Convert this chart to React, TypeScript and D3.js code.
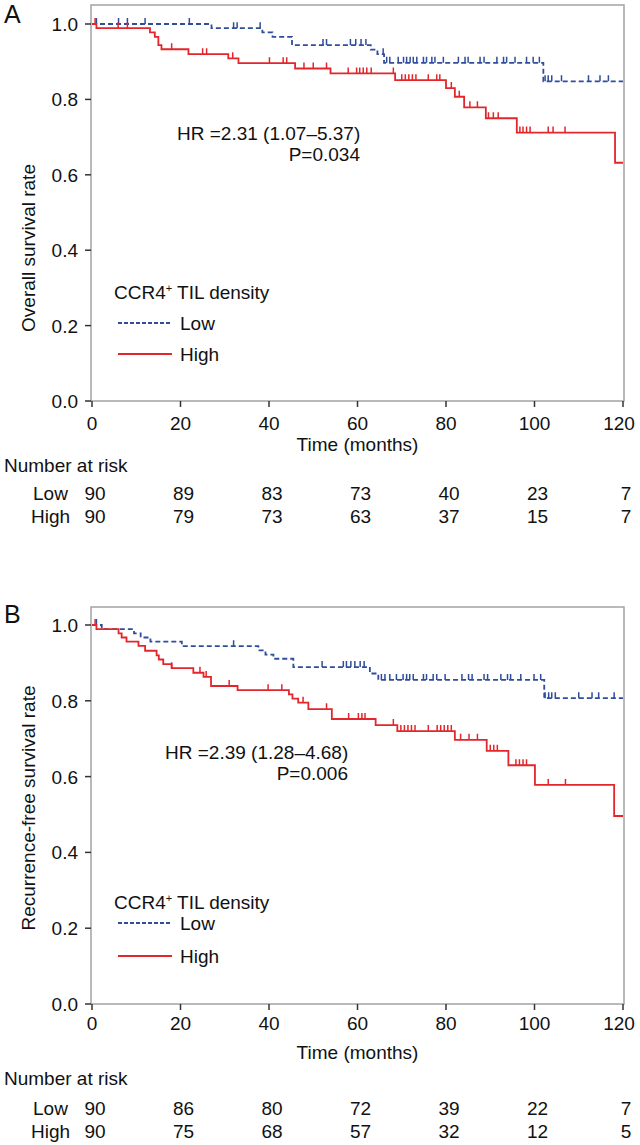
import * as d3 from "d3";

const timeTicks = [0, 20, 40, 60, 80, 100, 120];
const rateTicks = [0, 0.2, 0.4, 0.6, 0.8, 1.0];
const groups = ["Low", "High"];

// overall survival, panel A  [time, survival] at each drop
const osLow: [number, number][] = [
  [0, 1], [27, 0.989], [38.5, 0.978], [40.8, 0.966], [45.2, 0.944],
  [63, 0.932], [64.5, 0.92], [66, 0.897], [102, 0.848],
];
const osHigh: [number, number][] = [
  [0, 1], [1, 0.989], [13.1, 0.978], [14.2, 0.966], [15, 0.944], [15.7, 0.933],
  [21.8, 0.92], [30.8, 0.909], [33.1, 0.896], [45.9, 0.882], [53.9, 0.869],
  [68.5, 0.851], [80, 0.83], [82, 0.807], [84.1, 0.779], [89, 0.75],
  [96, 0.712], [118.2, 0.632],
];
const osLowCensor = [
  1, 6, 8, 12, 22, 32, 32.8, 38, 52.2, 53, 58.4, 59.6, 60.8, 61.9, 65.8, 66.6,
  67.3, 69.2, 70.4, 71.1, 71.9, 72.6, 73.4, 74.9, 75.6, 76.8, 77.5, 79.4, 82.8,
  84.3, 85, 87.7, 88.6, 91.5, 93, 93.7, 95.6, 98.2, 99.7, 101.1, 102.4, 103.1,
  103.9, 106.1, 112.2, 114.8, 116.7,
];
const osHighCensor = [
  0.7, 5.9, 8, 18, 25, 25.9, 31.8, 40.1, 43.2, 44, 47.9, 50, 53, 57.9, 59.8,
  60.5, 61.3, 62.1, 63.1, 68.1, 70, 70.8, 71.6, 72.4, 73.2, 76, 77.9, 78.6,
  81.2, 83, 85.4, 87.1, 89.6, 90.7, 91.8, 96.7, 97.4, 98.2, 99, 103.1, 104.2,
  106.9,
];
const osRiskLow = [90, 89, 83, 73, 40, 23, 7];
const osRiskHigh = [90, 79, 73, 63, 37, 15, 7];

// recurrence-free survival, panel B
const rfsLow: [number, number][] = [
  [0, 1], [2.2, 0.989], [9.5, 0.978], [11, 0.967], [13.2, 0.956], [20.3, 0.944],
  [37.6, 0.933], [39.2, 0.922], [41, 0.911], [45.5, 0.889], [62.8, 0.872],
  [64.7, 0.855], [102.2, 0.807],
];
const rfsHigh: [number, number][] = [
  [0, 1], [1, 0.989], [6, 0.978], [6.7, 0.967], [7.8, 0.956], [10.5, 0.945],
  [12, 0.932], [14.6, 0.92], [15.1, 0.909], [16.1, 0.897], [18, 0.886],
  [22.9, 0.874], [25.2, 0.863], [26.9, 0.839], [32.9, 0.828], [44.5, 0.817],
  [45.3, 0.806], [46.6, 0.795], [48.9, 0.778], [54.2, 0.752], [64.1, 0.736],
  [69, 0.72], [82, 0.697], [89.2, 0.668], [94.1, 0.63], [100.1, 0.578],
  [118, 0.496],
];
const rfsLowCensor = [
  1, 32, 52, 56.8, 57.5, 58.5, 59.4, 60.6, 61.5, 65.4, 66.2, 67.3, 68.8, 70.3,
  71.1, 71.8, 72.6, 74.9, 75.6, 77.1, 77.9, 79.8, 83.6, 85.1, 85.9, 88.6, 89.4,
  92.4, 93.9, 94.6, 96.9, 99.9, 101.4, 102.4, 103.2, 103.9, 104.7, 110, 113,
  114.5, 118,
];
const rfsHighCensor = [
  0.7, 18, 24.4, 25.8, 31, 39.8, 42.9, 47.7, 53, 58, 60.2, 61, 61.7, 68.1,
  69.8, 70.6, 71.4, 72.2, 73, 76, 78, 78.8, 79.6, 80.4, 81.2, 83.3, 85.2, 87.1,
  90, 90.8, 91.6, 95.8, 96.6, 97.4, 98.2, 103.1, 107,
];
const rfsRiskLow = [90, 86, 80, 72, 39, 22, 7];
const rfsRiskHigh = [90, 75, 68, 57, 32, 12, 5];

const FONT = "'Liberation Sans', Arial, Helvetica, sans-serif";
const FS = 19;
const RED = "#e3262b";
const BLUE = "#2f4d9c";
const FRAME = "#a3a3a3";

function survAt(steps: [number, number][], t: number) {
  let s = steps[0][1];
  for (const [tt, ss] of steps) if (tt <= t) s = ss;
  return s;
}

type Layout = {
  frameTop: number;
  y1: number;
  y0: number;
  letterY: number;
  hrX: number;
  hrY: number;
  legTitleY: number;
  legLowY: number;
  legHighY: number;
  tickLabelY: number;
  timeY: number;
  riskTitleY: number;
  riskLowY: number;
  riskHighY: number;
  yLabelMid: number;
};

type PanelProps = {
  letter: string;
  yLabel: string;
  hr: string;
  p: string;
  low: [number, number][];
  high: [number, number][];
  lowCensor: number[];
  highCensor: number[];
  riskLow: number[];
  riskHigh: number[];
  L: Layout;
};

const Panel = ({ letter, yLabel, hr, p, low, high, lowCensor, highCensor, riskLow, riskHigh, L }: PanelProps) => {
  const left = 91;
  const right = 624;
  const x = d3.scaleLinear().domain([0, 120]).range([92, 623]);
  const y = d3.scaleLinear().domain([0, 1]).range([L.y0, L.y1]);

  const line = d3
    .line<[number, number]>()
    .x((d) => x(d[0]))
    .y((d) => y(d[1]))
    .curve(d3.curveStepAfter);

  const withEnd = (s: [number, number][]) => [...s, [120, s[s.length - 1][1]] as [number, number]];

  const censorPath = (steps: [number, number][], times: number[]) =>
    times
      .map((t) => {
        const yy = y(survAt(steps, t));
        return `M${x(t)},${yy}V${yy - 6}`;
      })
      .join("");

  return (
    <g fontFamily={FONT} fontSize={FS} fill="#111">
      <text x={4} y={L.letterY} fontSize={25}>{letter}</text>
      {/* frame */}
      <rect x={left} y={L.frameTop} width={right - left} height={L.y0 - L.frameTop} fill="none" stroke={FRAME} strokeWidth={1.5} />
      {/* y ticks */}
      {rateTicks.map((v) => (
        <g key={v}>
          <line x1={85} x2={left} y1={y(v)} y2={y(v)} stroke="#333" strokeWidth={1.5} />
          <text x={78} y={y(v) + 7} textAnchor="end">
            {d3.format(".1f")(v)}
          </text>
        </g>
      ))}
      {/* x ticks */}
      {timeTicks.map((t) => (
        <g key={t}>
          <line x1={x(t)} x2={x(t)} y1={L.y0} y2={L.y0 + 6} stroke="#333" strokeWidth={1.5} />
          <text x={t === 120 ? x(t) - 4 : x(t)} y={L.tickLabelY} textAnchor="middle">
            {t}
          </text>
        </g>
      ))}
      <text x={(x(0) + x(120)) / 2} y={L.timeY} textAnchor="middle">
        Time (months)
      </text>
      <text transform={`translate(35,${L.yLabelMid}) rotate(-90)`} textAnchor="middle">
        {yLabel}
      </text>

      {/* curves */}
      <path d={line(withEnd(low)) || ""} fill="none" stroke={BLUE} strokeWidth={1.8} strokeDasharray="5,3" />
      <path d={censorPath(low, lowCensor)} fill="none" stroke={BLUE} strokeWidth={1.5} />
      <path d={line(withEnd(high)) || ""} fill="none" stroke={RED} strokeWidth={1.8} />
      <path d={censorPath(high, highCensor)} fill="none" stroke={RED} strokeWidth={1.5} />

      <text x={L.hrX} y={L.hrY}>{hr}</text>
      <text x={L.hrX + 183} y={L.hrY + 21} textAnchor="end">{p}</text>

      {/* legend */}
      <text x={114} y={L.legTitleY}>
        CCR4<tspan fontSize={11} dy={-7}>+</tspan>
        <tspan dy={7}> TIL density</tspan>
      </text>
      <line x1={118} x2={172} y1={L.legLowY} y2={L.legLowY} stroke={BLUE} strokeWidth={1.8} strokeDasharray="4,2" />
      <text x={180} y={L.legLowY + 7}>{groups[0]}</text>
      <line x1={118} x2={172} y1={L.legHighY} y2={L.legHighY} stroke={RED} strokeWidth={1.8} />
      <text x={180} y={L.legHighY + 7}>{groups[1]}</text>

      {/* number at risk */}
      <text x={4} y={L.riskTitleY}>Number at risk</text>
      <text x={33} y={L.riskLowY}>{groups[0]}</text>
      <text x={31} y={L.riskHighY}>{groups[1]}</text>
      {timeTicks.map((t, i) => (
        <g key={"r" + t}>
          <text x={x(t) + 3} y={L.riskLowY} textAnchor="middle">{riskLow[i]}</text>
          <text x={x(t) + 3} y={L.riskHighY} textAnchor="middle">{riskHigh[i]}</text>
        </g>
      ))}
    </g>
  );
};

const layoutA: Layout = {
  frameTop: 5, y1: 24, y0: 401, letterY: 23, hrX: 177, hrY: 140,
  legTitleY: 299, legLowY: 323, legHighY: 354,
  tickLabelY: 430, timeY: 451, riskTitleY: 472, riskLowY: 500, riskHighY: 523, yLabelMid: 248,
};
const layoutB: Layout = {
  frameTop: 607, y1: 625, y0: 1004, letterY: 623, hrX: 165, hrY: 759,
  legTitleY: 909, legLowY: 923, legHighY: 956,
  tickLabelY: 1030, timeY: 1059, riskTitleY: 1085, riskLowY: 1115, riskHighY: 1138, yLabelMid: 808,
};

export default function App() {
  return (
    <svg width={640} height={1145} style={{ position: "absolute", left: 0, top: 0, background: "#fff" }}>
      <Panel
        letter="A"
        yLabel="Overall survival rate"
        hr="HR =2.31 (1.07–5.37)"
        p="P=0.034"
        low={osLow}
        high={osHigh}
        lowCensor={osLowCensor}
        highCensor={osHighCensor}
        riskLow={osRiskLow}
        riskHigh={osRiskHigh}
        L={layoutA}
      />
      <Panel
        letter="B"
        yLabel="Recurrence-free survival rate"
        hr="HR =2.39 (1.28–4.68)"
        p="P=0.006"
        low={rfsLow}
        high={rfsHigh}
        lowCensor={rfsLowCensor}
        highCensor={rfsHighCensor}
        riskLow={rfsRiskLow}
        riskHigh={rfsRiskHigh}
        L={layoutB}
      />
    </svg>
  );
}
